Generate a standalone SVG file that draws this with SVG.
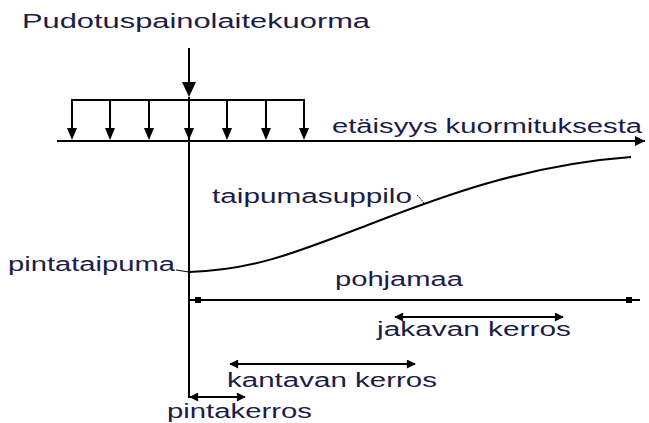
<svg xmlns="http://www.w3.org/2000/svg" width="649" height="423" viewBox="0 0 649 423">
<defs>
<style>
.t{font-family:"Liberation Sans",Arial,sans-serif;font-size:20px;fill:#1c1c48}
.ln{stroke:#000;stroke-width:2;fill:none}
.ld{stroke:#000;stroke-width:1;fill:none}
</style>
<marker id="ah" viewBox="0 0 10 10" refX="10" refY="5" markerWidth="5" markerHeight="5" orient="auto" markerUnits="strokeWidth">
<path d="M0,0 L10,5 L0,10 z" fill="#000"/>
</marker>
<marker id="ahs" viewBox="0 0 10 10" refX="9" refY="5" markerWidth="5" markerHeight="4.5" orient="auto-start-reverse" markerUnits="strokeWidth">
<path d="M0,0 L10,5 L0,10 z" fill="#000"/>
</marker>
</defs>
<rect width="649" height="423" fill="#fff"/>
<g id="title"><text class="t" x="22" y="28" textLength="348" lengthAdjust="spacingAndGlyphs">Pudotuspainolaitekuorma</text></g>
<g id="load">
<line class="ln" x1="189" y1="48" x2="189" y2="84"/>
<path d="M182,82 L196,82 L189,97 z" fill="#000"/>
<polyline class="ln" points="72,129 72,100 304,100 304,129"/>
<line class="ln" x1="110" y1="100" x2="110" y2="129"/>
<line class="ln" x1="149" y1="100" x2="149" y2="129"/>
<line class="ln" x1="227" y1="100" x2="227" y2="129"/>
<line class="ln" x1="266" y1="100" x2="266" y2="129"/>
<path d="M67,128 L77,128 L72,140 z M105,128 L115,128 L110,140 z M144,128 L154,128 L149,140 z M184,128 L194,128 L189,140 z M222,128 L232,128 L227,140 z M261,128 L271,128 L266,140 z M299,128 L309,128 L304,140 z" fill="#000"/>
</g>
<g id="axis">
<line class="ln" x1="57" y1="141" x2="645" y2="141" marker-end="url(#ah)"/>
<text class="t" x="332" y="133" textLength="310" lengthAdjust="spacingAndGlyphs">etäisyys kuormituksesta</text>
</g>
<g id="connectors">
<line class="ln" x1="189" y1="97" x2="189" y2="398"/>
</g>
<g id="curve">
<path class="ln" d="M189,272 C250,270 290,255 360,228 C430,201 520,165 631,157" stroke-width="2.5"/>
<text class="t" x="212" y="203" textLength="200" lengthAdjust="spacingAndGlyphs">taipumasuppilo</text>
<line class="ld" x1="417" y1="195" x2="425" y2="204" stroke-dasharray="2,1"/>
</g>
<g id="pintataipuma">
<text class="t" x="8" y="271" textLength="167" lengthAdjust="spacingAndGlyphs">pintataipuma</text>
<line class="ld" x1="176" y1="270" x2="189" y2="272"/>
</g>
<g id="pohjamaa">
<text class="t" x="335" y="286" textLength="128" lengthAdjust="spacingAndGlyphs">pohjamaa</text>
<line class="ln" x1="190" y1="300" x2="640" y2="300"/>
<rect x="195" y="297" width="6" height="6" fill="#000"/>
<rect x="626" y="297" width="6" height="6" fill="#000"/>
</g>
<g id="jakavan">
<line class="ln" x1="395" y1="317" x2="563" y2="317" marker-start="url(#ahs)" marker-end="url(#ahs)"/>
<text class="t" x="377" y="336" textLength="194" lengthAdjust="spacingAndGlyphs">jakavan kerros</text>
</g>
<g id="kantavan">
<line class="ln" x1="230" y1="364" x2="415" y2="364" marker-start="url(#ahs)" marker-end="url(#ahs)"/>
<text class="t" x="227" y="387" textLength="210" lengthAdjust="spacingAndGlyphs">kantavan kerros</text>
</g>
<g id="pintakerros">
<line class="ln" x1="190" y1="397" x2="245" y2="397" marker-start="url(#ahs)" marker-end="url(#ahs)"/>
<text class="t" x="167" y="418" textLength="145" lengthAdjust="spacingAndGlyphs">pintakerros</text>
</g>
</svg>
